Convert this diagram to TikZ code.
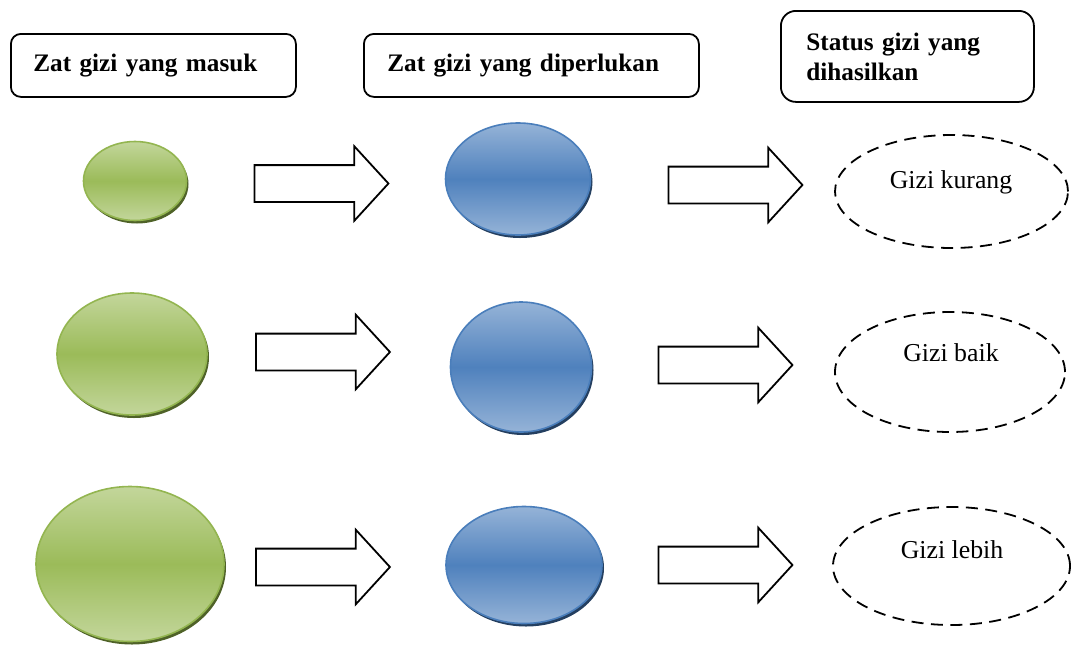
\documentclass[tikz,border=0pt]{standalone}
\usepackage{fontspec}
\setmainfont{Liberation Serif}
\usetikzlibrary{shapes.geometric,shapes.arrows,shadows}
\definecolor{gLight}{HTML}{C3D69B}
\definecolor{gMid}{HTML}{9BBB59}
\definecolor{gEdge}{HTML}{93B550}
\definecolor{gShadow}{HTML}{4F6228}
\definecolor{bLight}{HTML}{95B3D7}
\definecolor{bMid}{HTML}{4F81BD}
\definecolor{bEdge}{HTML}{4A7EBB}
\definecolor{bShadow}{HTML}{243F60}
\tikzset{
  headbox/.style={draw=black, line width=1.8pt, rounded corners=10pt, inner sep=0pt,
    font=\fontsize{25.2}{30}\selectfont\bfseries, align=left, anchor=north west},
  greenball/.style={ellipse, inner sep=0pt, draw=gEdge, line width=1.6pt,
    top color=gLight, bottom color=gLight, middle color=gMid,
    general shadow={fill=gShadow, shadow xshift=2pt, shadow yshift=-3pt}},
  blueball/.style={ellipse, inner sep=0pt, draw=bEdge, line width=1.6pt,
    top color=bLight, bottom color=bLight, middle color=bMid,
    general shadow={fill=bShadow, shadow xshift=2pt, shadow yshift=-3pt}},
  blockarrow/.style={single arrow, draw=black, fill=white, line width=1.8pt,
    inner xsep=0pt, inner ysep=17.5pt, single arrow head extend=19pt,
    single arrow tip angle=95, minimum height=134pt, shape border uses incircle=false},
  statusring/.style={ellipse, draw=black, line width=1.8pt, dash pattern=on 12pt off 7.5pt, inner sep=0pt},
  statustext/.style={font=\fontsize{25.8}{30}\selectfont}
}
\begin{document}
\begin{tikzpicture}[x=1pt, y=-1pt]
\useasboundingbox (0,0) rectangle (1071,646);
% headers
\node[headbox, minimum width=285pt, minimum height=63pt, text width=240pt, inner xsep=22pt] (h1) at (10,33) {Zat gizi yang masuk};
\node[headbox, minimum width=335pt, minimum height=63pt, text width=288pt, inner xsep=23pt] (h2) at (363,33) {Zat gizi yang diperlukan};
\node[headbox, rounded corners=15pt, minimum width=253pt, minimum height=91pt, text width=202pt, inner xsep=25pt] (h3) at (780,10) {Status gizi yang\\dihasilkan};
% green
\node[greenball, minimum width=103pt, minimum height=79pt] (g1) at (135,181) {};
\node[greenball, minimum width=150pt, minimum height=122pt] (g2) at (132,354) {};
\node[greenball, minimum width=188pt, minimum height=155pt] (g3) at (130,564) {};
% blue
\node[blueball, minimum width=145pt, minimum height=112pt] (b1) at (518,179) {};
\node[blueball, minimum width=141pt, minimum height=130pt] (b2) at (521,367) {};
\node[blueball, minimum width=156pt, minimum height=117pt] (b3) at (524,565) {};
% arrows
\node[blockarrow] (a1) at (313,183.5) {};
\node[blockarrow] (a2) at (314.5,352) {};
\node[blockarrow] (a3) at (314.5,567) {};
\node[blockarrow] (c1) at (727,185) {};
\node[blockarrow] (c2) at (717,365) {};
\node[blockarrow] (c3) at (717,565) {};
% status ellipses
\node[statusring, minimum width=233pt, minimum height=113pt] (s1) at (951.5,191.5) {};
\node[statusring, minimum width=230pt, minimum height=120pt] (s2) at (950,372) {};
\node[statusring, minimum width=237pt, minimum height=118pt] (s3) at (951.5,566) {};
\node[statustext] (t1) at (951,182) {Gizi kurang};
\node[statustext] (t2) at (951,353) {Gizi baik};
\node[statustext] (t3) at (952,550) {Gizi lebih};
\end{tikzpicture}
\end{document}
